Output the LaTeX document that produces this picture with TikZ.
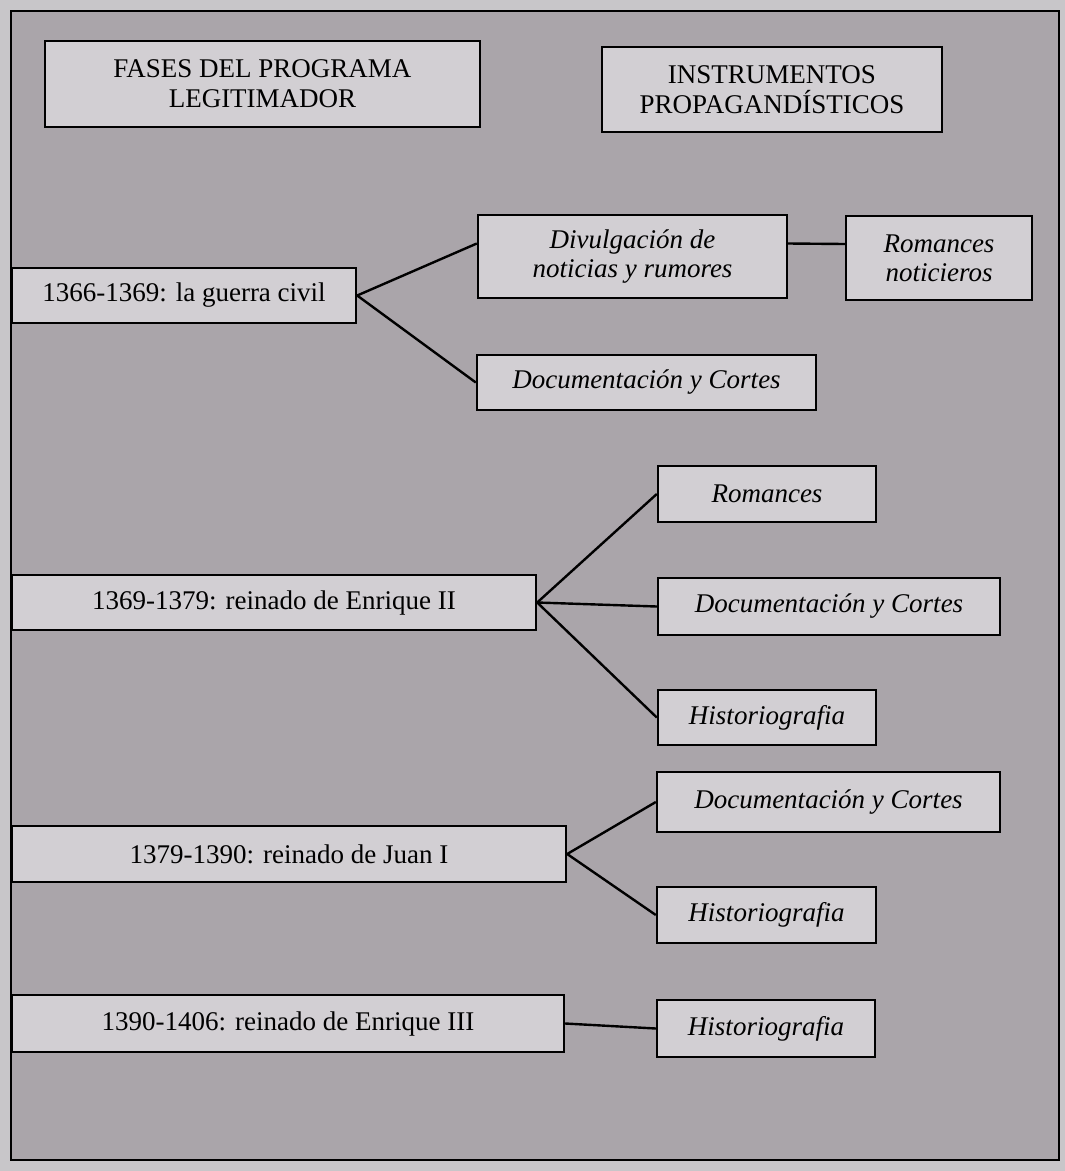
\documentclass[tikz,border=0pt]{standalone}
\usepackage{fontspec}
\setmainfont{Liberation Serif}
\usetikzlibrary{calc}
\definecolor{outerbg}{RGB}{200,198,201}
\definecolor{innerbg}{RGB}{170,165,170}
\definecolor{boxfill}{RGB}{210,207,211}
\tikzset{
  box/.style={draw=black, line width=2.4pt, fill=boxfill, inner sep=0pt, align=center, font=\fontsize{27}{29}\selectfont},
  ibox/.style={box, font=\fontsize{27}{29}\selectfont\itshape},
  tbox/.style={box, font=\fontsize{27}{30}\selectfont},
  conn/.style={line width=2.4pt, draw=black}
}
\begin{document}
\begin{tikzpicture}[x=1pt,y=-1pt]
\useasboundingbox (0,0) rectangle (1065,1171);
\fill[outerbg] (0,0) rectangle (1065,1171);
\filldraw[fill=innerbg, draw=black, line width=2.4pt] (11,11) rectangle (1059,1160);
% titles
\node[tbox, minimum width=435pt, minimum height=86pt] (t1) at (262.5,84) {FASES DEL PROGRAMA\\LEGITIMADOR};
\node[tbox, minimum width=340pt, minimum height=85pt] (t2) at (772,89.5) {INSTRUMENTOS\\PROPAGAND\'ISTICOS};
% phase 1
\node[box, minimum width=344pt, minimum height=55pt] (p1) at (184,295.5) {1366-1369: la guerra civil};
\node[ibox, minimum width=309pt, minimum height=83pt] (d1) at (632.5,256.5) {Divulgación de\\noticias y rumores};
\node[ibox, minimum width=186pt, minimum height=84pt] (r1) at (939,258) {Romances\\noticieros};
\node[ibox, minimum width=339pt, minimum height=55pt] (c1) at (646.5,382.5) {Documentación y Cortes};
\draw[conn] (p1.east) -- ([yshift=13pt]d1.west);
\draw[conn] (p1.east) -- (c1.west);
\draw[conn] ([yshift=13pt]d1.east) -- ([yshift=14pt]r1.west);
% phase 2
\node[box, minimum width=524pt, minimum height=55pt] (p2) at (274,602.5) {1369-1379: reinado de Enrique II};
\node[ibox, minimum width=218pt, minimum height=56pt] (r2) at (767,494) {Romances};
\node[ibox, minimum width=342pt, minimum height=57pt] (c2) at (829,606.5) {Documentación y Cortes};
\node[ibox, minimum width=218pt, minimum height=55pt] (h2) at (767,717.5) {Historiografia};
\draw[conn] (p2.east) -- (r2.west);
\draw[conn] (p2.east) -- (c2.west);
\draw[conn] (p2.east) -- (h2.west);
% phase 3
\node[box, minimum width=554pt, minimum height=56pt] (p3) at (289,854) {1379-1390: reinado de Juan I};
\node[ibox, minimum width=343pt, minimum height=60pt] (c3) at (828.5,802) {Documentación y Cortes};
\node[ibox, minimum width=219pt, minimum height=56pt] (h3) at (766.5,915) {Historiografia};
\draw[conn] (p3.east) -- (c3.west);
\draw[conn] (p3.east) -- (h3.west);
% phase 4
\node[box, minimum width=552pt, minimum height=57pt] (p4) at (288,1023.5) {1390-1406: reinado de Enrique III};
\node[ibox, minimum width=218pt, minimum height=57pt] (h4) at (766,1028.5) {Historiografia};
\draw[conn] (p4.east) -- (h4.west);
\end{tikzpicture}
\end{document}
